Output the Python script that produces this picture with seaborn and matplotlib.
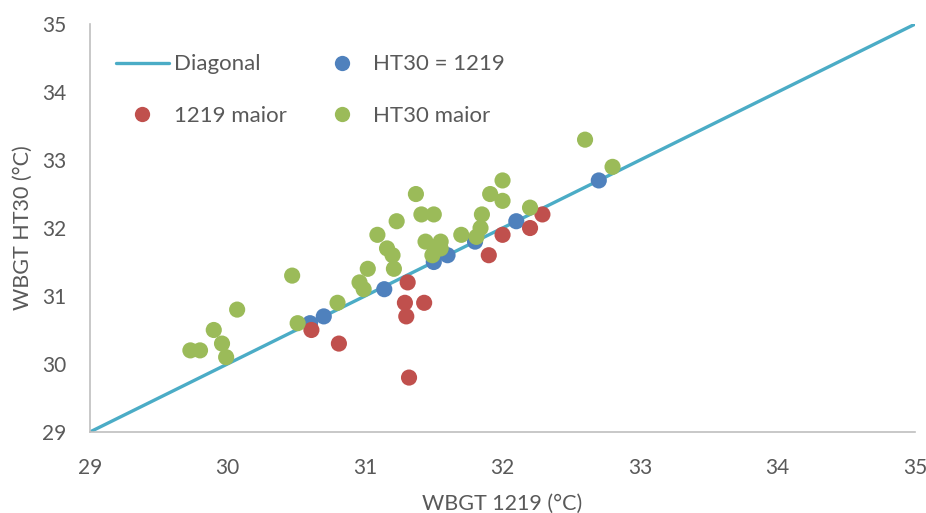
import matplotlib
matplotlib.use("Agg")
import matplotlib.pyplot as plt
import seaborn as sns
import pandas as pd
import numpy as np
from matplotlib.lines import Line2D

# Data
equal_x = [30.6, 30.7, 31.14, 31.5, 31.6, 31.8, 32.1, 32.7]
equal_y = [30.6, 30.7, 31.1, 31.5, 31.6, 31.8, 32.1, 32.7]

m1219_x = [30.61, 30.81, 31.31, 31.29, 31.3, 31.43, 31.32, 31.9, 32.0, 32.2, 32.29]
m1219_y = [30.5, 30.3, 31.2, 30.9, 30.7, 30.9, 29.8, 31.6, 31.9, 32.0, 32.2]

ht30_x = [29.73, 29.8, 29.9, 29.96, 29.99, 30.07, 30.47, 30.51, 30.8, 30.96,
          30.99, 31.02, 31.09, 31.16, 31.2, 31.21, 31.23, 31.37, 31.41, 31.5,
          31.44, 31.55, 31.49, 31.51, 31.55, 31.7, 31.81, 31.84, 31.85, 31.91,
          32.0, 32.0, 32.2, 32.6, 32.8]
ht30_y = [30.2, 30.2, 30.5, 30.3, 30.1, 30.8, 31.3, 30.6, 30.9, 31.2,
          31.1, 31.4, 31.9, 31.7, 31.6, 31.4, 32.1, 32.5, 32.2, 32.2,
          31.8, 31.8, 31.6, 31.7, 31.7, 31.9, 31.87, 32.0, 32.2, 32.5,
          32.7, 32.4, 32.3, 33.3, 32.9]

diag = [29, 35]
ticks = [29, 30, 31, 32, 33, 34, 35]

labels = ["HT30 = 1219", "1219 maior", "HT30 maior"]
colors = {"HT30 = 1219": "#4F81BD", "1219 maior": "#C0504D", "HT30 maior": "#9BBB59"}
diag_color = "#4BACC6"

df = pd.DataFrame({
    "x": equal_x + m1219_x + ht30_x,
    "y": equal_y + m1219_y + ht30_y,
    "grp": [labels[0]] * len(equal_x) + [labels[1]] * len(m1219_x) + [labels[2]] * len(ht30_x),
})

sns.set_theme(style="white")
plt.rcParams['font.family'] = ['Lato', 'DejaVu Sans']
text_color = "#595959"

fig = plt.figure(figsize=(9.26, 5.13), dpi=100)
ax = fig.add_axes([0.0972, 0.158, 0.891, 0.795])

sns.lineplot(x=diag, y=diag, ax=ax, color=diag_color, linewidth=2.4, zorder=1)
sns.scatterplot(data=df, x="x", y="y", hue="grp", hue_order=labels, palette=colors,
                s=135, edgecolor="none", linewidth=0, ax=ax, legend=False, zorder=2)

ax.set_xlim(29, 35)
ax.set_ylim(29, 35)
ax.set_xticks(ticks)
ax.set_yticks(ticks)
ax.set_xticklabels([str(t) for t in ticks])
ax.set_yticklabels([str(t) for t in ticks])
ax.tick_params(axis="x", length=0, pad=19, labelsize=15, colors=text_color)
ax.tick_params(axis="y", length=0, pad=17, labelsize=15, colors=text_color)
for side in ["top", "right"]:
    ax.spines[side].set_visible(False)
for side in ["left", "bottom"]:
    ax.spines[side].set_color("#BFBFBF")
    ax.spines[side].set_linewidth(1.2)

ax.set_xlabel("WBGT 1219 (°C)", fontsize=15.5, color=text_color, labelpad=11)
ax.set_ylabel("WBGT HT30 (°C)", fontsize=15.5, color=text_color, labelpad=7)

handles = [
    Line2D([0], [0], color=diag_color, linewidth=2.4),
    Line2D([0], [0], marker="o", linestyle="none", markersize=11, markerfacecolor=colors[labels[1]], markeredgewidth=0),
    Line2D([0], [0], marker="o", linestyle="none", markersize=11, markerfacecolor=colors[labels[0]], markeredgewidth=0),
    Line2D([0], [0], marker="o", linestyle="none", markersize=11, markerfacecolor=colors[labels[2]], markeredgewidth=0),
]
leg = ax.legend(handles, ["Diagonal", "1219 maior", "HT30 = 1219", "HT30 maior"], ncol=2,
                loc="upper left", bbox_to_anchor=(0.007, 0.975), frameon=False,
                fontsize=16, labelspacing=1.43, columnspacing=1.3, handlelength=2.4,
                handletextpad=0.2)
for t in leg.get_texts():
    t.set_color(text_color)

fig.savefig("out.png", dpi=100)
